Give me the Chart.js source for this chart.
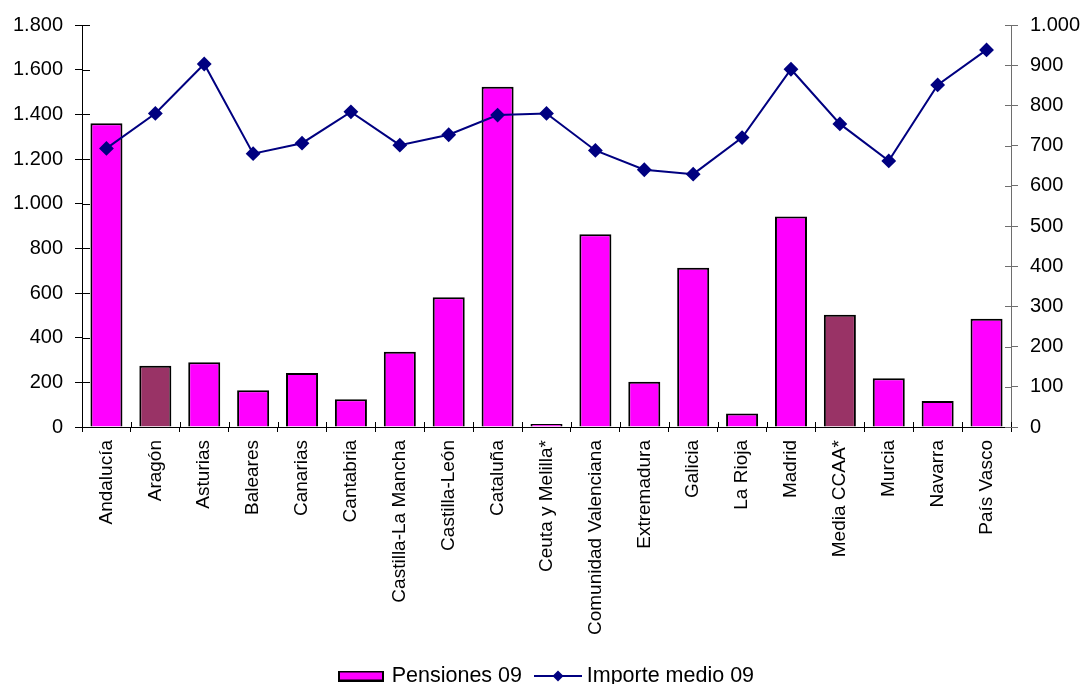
<!DOCTYPE html>
<html><head><meta charset="utf-8">
<script src="https://cdn.jsdelivr.net/npm/chart.js@4/dist/chart.umd.min.js"></script>
<style>html,body{margin:0;padding:0;background:#fff;overflow:hidden}</style>
</head><body>
<canvas id="c" width="1083" height="684"></canvas>
<script>
const categories = ["Andalucía","Aragón","Asturias","Baleares","Canarias","Cantabria","Castilla-La Mancha","Castilla-León","Cataluña","Ceuta y Melilla*","Comunidad Valenciana","Extremadura","Galicia","La Rioja","Madrid","Media CCAA*","Murcia","Navarra","País Vasco"];
const pensiones09 = [1360,274,290,164,242,124,337,581,1523,13,863,203,713,61,942,503,218,116,485];
const importeMedio09 = [693,780,903,680,706,784,701,727,776,780,688,640,629,720,890,754,662,851,938];
const highlighted = ["Aragón","Media CCAA*"];
const seriesNames = ["Pensiones 09","Importe medio 09"];

const FONT = "'Liberation Sans', Arial, sans-serif";
const MAGENTA = "#FF00FF", PLUM = "#993366", NAVY = "#000080", RAXIS = "#6e6e6e";

function fmt(v){ return String(v).replace(/\B(?=(\d{3})+(?!\d))/g, "."); }

function barIcon(){
  const c = document.createElement("canvas"); c.width = 46; c.height = 11;
  const g = c.getContext("2d");
  g.fillStyle = MAGENTA; g.fillRect(0,0,46,11);
  g.strokeStyle = "#000"; g.lineWidth = 2; g.strokeRect(1,1,44,9);
  return c;
}
function lineIcon(){
  const c = document.createElement("canvas"); c.width = 52; c.height = 14;
  const g = c.getContext("2d");
  g.strokeStyle = NAVY; g.lineWidth = 2;
  g.beginPath(); g.moveTo(4,7); g.lineTo(52,7); g.stroke();
  g.fillStyle = NAVY; g.beginPath();
  g.moveTo(28,1.5); g.lineTo(33.5,7); g.lineTo(28,12.5); g.lineTo(22.5,7); g.closePath(); g.fill();
  return c;
}
const icons = [barIcon(), lineIcon()];

const innerTicks = {
  id: "innerTicks",
  afterDraw(chart) {
    const {ctx, chartArea: a, scales} = chart;
    ctx.save();
    ctx.lineWidth = 1;
    ctx.strokeStyle = "#000";
    scales.y.ticks.forEach(t => {
      const py = Math.round(scales.y.getPixelForValue(t.value)) + 0.5;
      ctx.beginPath(); ctx.moveTo(a.left, py); ctx.lineTo(a.left + 8, py); ctx.stroke();
    });
    ctx.strokeStyle = RAXIS;
    scales.y1.ticks.forEach(t => {
      const py = Math.round(scales.y1.getPixelForValue(t.value)) + 0.5;
      ctx.beginPath(); ctx.moveTo(a.right - 6, py); ctx.lineTo(a.right, py); ctx.stroke();
    });
    ctx.strokeStyle = "#000";
    const x = scales.x;
    const half = (x.getPixelForValue(1) - x.getPixelForValue(0)) / 2;
    for (let i = 0; i <= categories.length; i++) {
      const px = Math.round(x.getPixelForValue(i) - half) + 0.5;
      ctx.beginPath(); ctx.moveTo(px, a.bottom - 5); ctx.lineTo(px, a.bottom); ctx.stroke();
    }
    ctx.restore();
  }
};

new Chart(document.getElementById("c"), {
  data: {
    labels: categories,
    datasets: [
      {
        type: "bar", label: seriesNames[0], data: pensiones09, yAxisID: "y", order: 2,
        backgroundColor: categories.map(c => highlighted.includes(c) ? PLUM : MAGENTA),
        borderColor: "#000", borderWidth: 2,
        barPercentage: 0.655, categoryPercentage: 1
      },
      {
        type: "line", label: seriesNames[1], data: importeMedio09, yAxisID: "y1", order: 1,
        borderColor: NAVY, backgroundColor: NAVY, borderWidth: 2,
        pointStyle: "rectRot", pointRadius: 6, pointBackgroundColor: NAVY, pointBorderColor: NAVY,
        tension: 0, fill: false
      }
    ]
  },
  plugins: [innerTicks],
  options: {
    responsive: false, devicePixelRatio: 1, animation: false,
    layout: { padding: { top: 25, left: 12, right: 0, bottom: -12.75 } },
    plugins: {
      tooltip: { enabled: false },
      legend: {
        position: "bottom", align: "center",
        labels: {
          usePointStyle: true, pointStyleWidth: 40, boxHeight: 11, padding: 14,
          color: "#000", font: { family: FONT, size: 21.5 },
          generateLabels: () => seriesNames.map((n, i) => ({
            text: n, pointStyle: icons[i], datasetIndex: i, hidden: false,
            fillStyle: "transparent", strokeStyle: "transparent", lineWidth: 0, fontColor: "#000"
          }))
        }
      }
    },
    scales: {
      x: {
        offset: true,
        grid: { offset: true, drawOnChartArea: false, tickLength: 5, color: "#000" },
        border: { color: "#000", width: 1 },
        ticks: { autoSkip: false, maxRotation: 90, minRotation: 90, padding: 8, color: "#000", font: { family: FONT, size: 19 } },
        afterFit: s => { s.height = 224.25; }
      },
      y: {
        position: "left", min: 0, max: 1800,
        grid: { drawOnChartArea: false, tickLength: 7, color: "#000" },
        border: { color: "#000", width: 1 },
        ticks: { stepSize: 200, padding: 12, color: "#000", font: { family: FONT, size: 20 }, callback: v => fmt(v) },
        afterFit: s => { s.width = 70; }
      },
      y1: {
        position: "right", min: 0, max: 1000,
        grid: { drawOnChartArea: false, tickLength: 7, color: RAXIS },
        border: { color: RAXIS, width: 1 },
        ticks: { stepSize: 100, padding: 12, color: "#000", font: { family: FONT, size: 20 }, callback: v => fmt(v) },
        afterFit: s => { s.width = 72; }
      }
    }
  }
});
</script>
</body></html>
